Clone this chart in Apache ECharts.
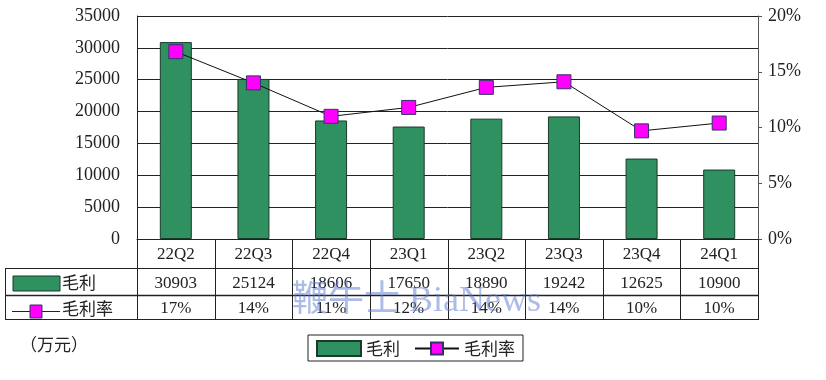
<!DOCTYPE html>
<html><head><meta charset="utf-8">
<script src="https://cdn.jsdelivr.net/npm/echarts@6/dist/echarts.min.js"></script>
<style>html,body{margin:0;padding:0;background:#fff}#c{width:826px;height:380px}</style>
</head><body><div id="c"></div>
<script>
var categories = ['22Q2','22Q3','22Q4','23Q1','23Q2','23Q3','23Q4','24Q1'];
var grossProfit = [30903, 25124, 18606, 17650, 18890, 19242, 12625, 10900];
var grossMargin = [16.8, 14.0, 11.0, 11.8, 13.6, 14.1, 9.7, 10.4];
var marginLabels = ['17%','14%','11%','12%','14%','14%','10%','10%'];
var leftTicks = {min:0, max:35000, interval:5000};
var rightTicks = {min:0, max:20, interval:5};

var L = 137, R = 758, T = 16, B = 239;
var tableLeft = 5, row1 = 268, row2 = 295, tableBottom = 320;
var serif = '"Liberation Serif","DejaVu Serif",serif';
var cjk = '"Noto Sans CJK SC",sans-serif';
var green = '#2f9160';
var lineC = '#222';

var graphics = [];
function hline(x1,x2,y,w){graphics.push({type:'line',z:50,shape:{x1:x1,y1:y,x2:x2,y2:y},style:{stroke:lineC,lineWidth:w||1},silent:true});}
function vline(x,y1,y2,w){graphics.push({type:'line',z:50,shape:{x1:x,y1:y1,x2:x,y2:y2},style:{stroke:lineC,lineWidth:w||1},silent:true});}
var cw = (R-L)/categories.length;
for (var i=0;i<=categories.length;i++){ vline(Math.round(L+i*cw)+0.5, B, tableBottom); }
vline(tableLeft+0.5,row1,tableBottom);
hline(tableLeft,R+1,row1+0.5);
hline(tableLeft,R+1,row2+0.5,1.5);
hline(tableLeft,R+1,tableBottom-0.5,1.2);
// row headers
graphics.push({type:'rect',shape:{x:13,y:276,width:47,height:15},style:{fill:green,stroke:'#1b3a2a',lineWidth:1}});
graphics.push({type:'text',style:{x:62,y:283,text:'毛利',font:'17px '+cjk,fill:'#222',textVerticalAlign:'middle'}});
graphics.push({type:'line',shape:{x1:12,y1:311.5,x2:60,y2:311.5},style:{stroke:'#222',lineWidth:1}});
graphics.push({type:'rect',shape:{x:30,y:305,width:12,height:13},style:{fill:'#ff00ff',stroke:'#333366',lineWidth:1}});
graphics.push({type:'text',style:{x:62,y:309,text:'毛利率',font:'17px '+cjk,fill:'#222',textVerticalAlign:'middle'}});
graphics.push({type:'text',style:{x:20,y:345,text:'（万元）',font:'17px '+cjk,fill:'#222',textVerticalAlign:'middle'}});
// watermark
graphics.push({type:'text',z:100,style:{x:292,y:302,text:'鞭牛士 BiaNews',font:'36px "Liberation Serif","Noto Sans CJK SC",serif',fill:'rgba(90,120,210,0.5)',textVerticalAlign:'middle'}});

var chart = echarts.init(document.getElementById('c'));
chart.setOption({
  animation:false,
  backgroundColor:'#fff',
  grid:{left:L, top:T, width:R-L, height:B-T, show:false},
  legend:{
    left:308, top:335, orient:'horizontal',
    data:[{name:'毛利',icon:'rect'},{name:'毛利率'}],
    borderColor:'#222', borderWidth:1, padding:[5,8,4,8], itemGap:14,
    itemWidth:44, itemHeight:15,
    textStyle:{fontFamily:cjk, fontSize:17, color:'#222'}
  },
  xAxis:[
    {type:'category', data:categories, gridIndex:0, position:'bottom',
     axisLine:{show:true,lineStyle:{color:lineC,width:1}}, axisTick:{show:false},
     axisLabel:{fontFamily:serif,fontSize:17,color:'#222',margin:7}},
    {type:'category', data:grossProfit.map(String), gridIndex:0, position:'bottom', offset:29,
     axisLine:{show:false}, axisTick:{show:false},
     axisLabel:{fontFamily:serif,fontSize:17,color:'#222',margin:7}},
    {type:'category', data:marginLabels, gridIndex:0, position:'bottom', offset:54,
     axisLine:{show:false}, axisTick:{show:false},
     axisLabel:{fontFamily:serif,fontSize:17,color:'#222',margin:7}}
  ],
  yAxis:[
    {type:'value', min:leftTicks.min, max:leftTicks.max, interval:leftTicks.interval, position:'left',
     axisLine:{show:true,lineStyle:{color:lineC}}, axisTick:{show:false},
     axisLabel:{fontFamily:serif,fontSize:18,color:'#222',margin:17,formatter:function(v){return String(v);}},
     splitLine:{show:true,lineStyle:{color:lineC,width:1}}},
    {type:'value', min:rightTicks.min, max:rightTicks.max, interval:rightTicks.interval, position:'right',
     axisLine:{show:true,lineStyle:{color:'#555'}}, axisTick:{show:true,length:4,lineStyle:{color:'#555'}},
     axisLabel:{fontFamily:serif,fontSize:18,color:'#222',margin:10,formatter:'{value}%'},
     splitLine:{show:false}}
  ],
  series:[
    {name:'毛利', type:'bar', data:grossProfit, xAxisIndex:0, yAxisIndex:0, barWidth:32,
     itemStyle:{color:green, borderColor:'#1b3a2a', borderWidth:1}},
    {name:'毛利率', type:'line', data:grossMargin, xAxisIndex:0, yAxisIndex:1,
     symbol:'rect', symbolSize:14,
     itemStyle:{color:'#ff00ff', borderColor:'#333366', borderWidth:1},
     lineStyle:{color:'#111', width:1}}
  ],
  graphic:graphics
});
</script></body></html>
